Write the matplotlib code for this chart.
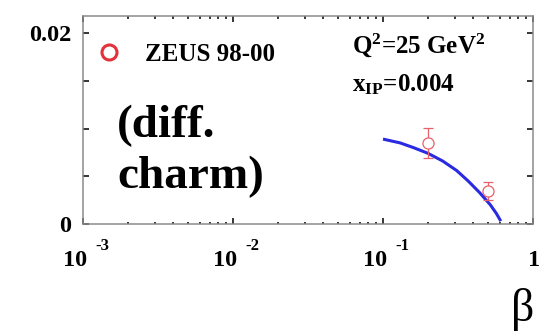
import matplotlib
matplotlib.use("Agg")
import matplotlib.pyplot as plt
from matplotlib.lines import Line2D
from matplotlib.ticker import FixedLocator, FixedFormatter, LogLocator, NullFormatter

# ZEUS 98-00 diffractive charm, Q^2 = 25 GeV^2, x_IP = 0.004
data_beta = [0.2, 0.5]
data_val = [0.0085, 0.00347]
data_err = [0.0016, 0.00095]

# model curve
curve_beta = [0.10, 0.13, 0.16, 0.20, 0.25, 0.31, 0.37, 0.44, 0.52, 0.57, 0.61]
curve_val = [0.0089, 0.0085, 0.0080, 0.0074, 0.0066, 0.0056, 0.0045, 0.0033,
             0.0020, 0.0011, 0.0003]

x_major = [1e-3, 1e-2, 1e-1, 1.0]
x_exponents = [-3, -2, -1, 0]
y_ticks = [0.0, 0.005, 0.01, 0.015, 0.02]
y_labels = ["0", "", "", "", "0.02"]

SERIF = "Liberation Serif"
RED = "#e2323c"
PINK = "#e8606a"
BLUE = "#2a2ae0"
SPINE = "#8a8a8a"

plt.rcParams["font.family"] = [SERIF, "DejaVu Serif"]
plt.rcParams["font.weight"] = "bold"
plt.rcParams["mathtext.default"] = "regular"

fig = plt.figure(figsize=(5.58, 3.32), dpi=100)
ax = fig.add_axes([83 / 558, 1 - 224 / 332, 450 / 558, 208 / 332])

ax.plot(curve_beta, curve_val, color=BLUE, lw=2.2, solid_capstyle="butt",
        solid_joinstyle="round", zorder=2)
ax.errorbar(data_beta, data_val, yerr=data_err, fmt="o", ms=8, mfc="white",
            mec=PINK, mew=0.9, ecolor=PINK, elinewidth=0.9, capsize=3.6,
            capthick=0.9, zorder=3)

ax.set_xscale("log")
ax.set_xlim(1e-3, 1.0)
ax.set_ylim(0, 0.0218)

for s in ax.spines.values():
    s.set_color(SPINE)
    s.set_linewidth(1.1)

ax.xaxis.set_major_locator(FixedLocator(x_major))
ax.xaxis.set_minor_locator(LogLocator(base=10, subs=range(2, 10)))
ax.xaxis.set_major_formatter(NullFormatter())
ax.xaxis.set_minor_formatter(NullFormatter())
ax.yaxis.set_major_locator(FixedLocator(y_ticks))
ax.yaxis.set_major_formatter(FixedFormatter(y_labels))

ax.tick_params(which="both", direction="in", top=True, right=True,
               color="black", width=1.1)
ax.tick_params(which="major", length=4.5)
ax.tick_params(which="minor", length=1.8)
ax.tick_params(axis="y", labelsize=17.5, pad=8.5)
for lab in ax.get_yticklabels():
    lab.set_fontweight("bold")

# x tick labels in the "10 ^-n" style
xtrans = ax.get_xaxis_transform()
for v, e in zip(x_major, x_exponents):
    if e == 0:
        ax.annotate("1", xy=(v, 0), xycoords=xtrans, xytext=(1, -42),
                    textcoords="offset pixels", ha="center", va="baseline",
                    fontsize=17.5, fontweight="bold", annotation_clip=False)
    else:
        ax.annotate("10", xy=(v, 0), xycoords=xtrans, xytext=(4, -42),
                    textcoords="offset pixels", ha="right", va="baseline",
                    fontsize=17.5, fontweight="bold", annotation_clip=False)
        ax.annotate(str(e), xy=(v, 0), xycoords=xtrans, xytext=(12, -26),
                    textcoords="offset pixels", ha="left", va="baseline",
                    fontsize=12, fontweight="bold", annotation_clip=False)

# legend
proxy = Line2D([], [], ls="none", marker="o", ms=10.8, mfc="none",
               mec=RED, mew=2.2)
ax.legend([proxy], ["ZEUS 98-00"], loc="center left",
          bbox_to_anchor=(0.030, 0.817), frameon=False, borderpad=0,
          borderaxespad=0, handlelength=1.0, handletextpad=0.94,
          prop={"family": SERIF, "weight": "bold", "size": 18})

fig.text(352 / 558, 1 - 53 / 332, "Q$^{2}$=25 GeV$^{2}$", fontsize=18,
         fontweight="bold", ha="left", va="baseline")
fig.text(352 / 558, 1 - 91 / 332, "x$_{IP}$=0.004", fontsize=18,
         fontweight="bold", ha="left", va="baseline")

fig.text(117 / 558, 1 - 137 / 332, "(diff.", fontsize=34, fontweight="bold",
         ha="left", va="baseline")
fig.text(117 / 558, 1 - 188 / 332, "charm)", fontsize=34, fontweight="bold",
         ha="left", va="baseline")

fig.text(523 / 558, 1 - 288 / 332, "β", fontsize=33, fontweight="normal",
         ha="center", va="top")

fig.savefig("out.png", dpi=100)
